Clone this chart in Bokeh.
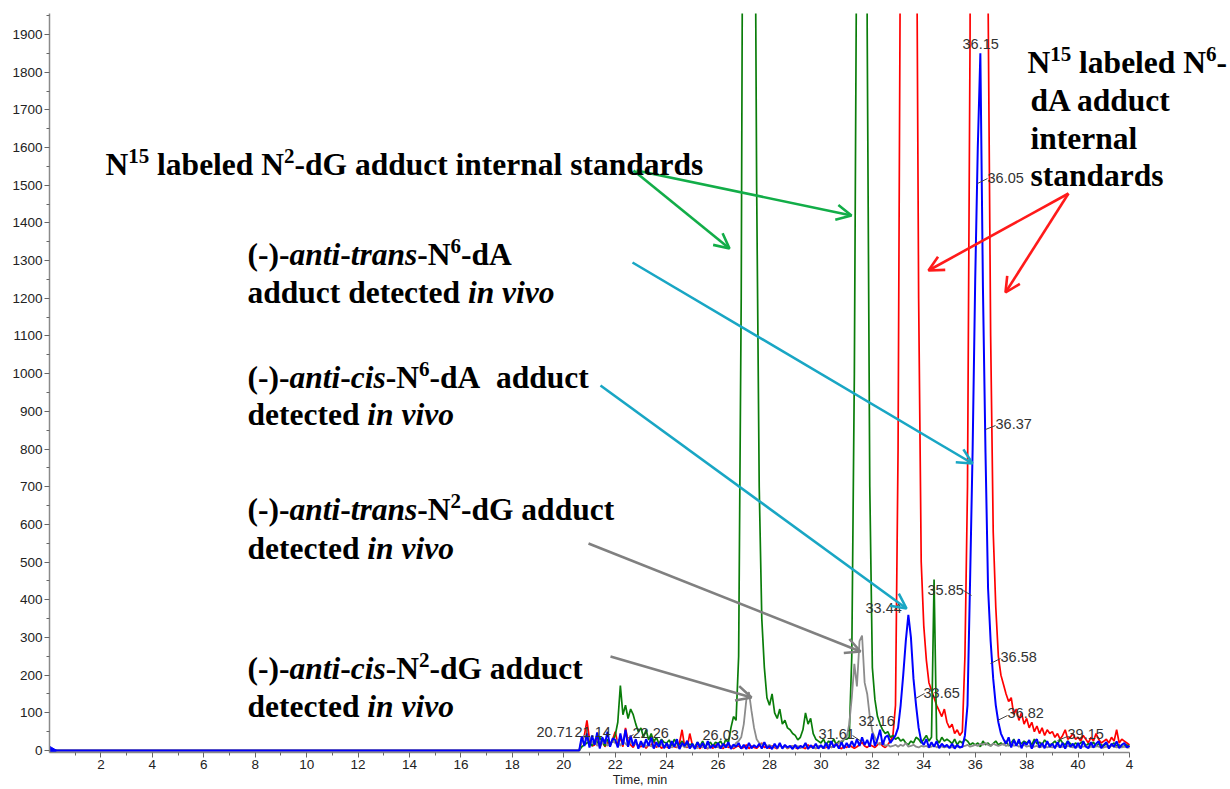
import numpy as np
from bokeh.plotting import figure
from bokeh.models import Range1d, FixedTicker, Label, Arrow, OpenHead
from bokeh.embed import file_html
from bokeh.resources import INLINE

# ---------------- data ----------------
# sampling grid: 20.0 .. 42.0 min, 0.1 min step (plus a flat baseline from 0 min)
grid_start, grid_step, grid_n = 20.0, 0.1, 221

blue_vals = [
    0, 0, 0, 0, 0, 0, 0, 38, 12, 45,
    8, 40, 15, 48, 5, 35, 18, 50, 10, 32,
    28, 8, 45, 15, 55, 10, 40, 12, 30, 5,
    25, 8, 30, 12, 35, 5, 22, 10, 28, 6,
    20, 5, 25, 10, 30, 4, 20, 12, 26, 5,
    18, 4, 22, 8, 20, 5, 25, 6, 15, 8,
    20, 5, 18, 8, 22, 4, 16, 10, 20, 5,
    15, 4, 20, 6, 14, 8, 18, 5, 22, 6,
    12, 4, 18, 6, 20, 5, 15, 8, 12, 4,
    15, 5, 12, 8, 20, 4, 14, 6, 18, 5,
    14, 6, 20, 4, 25, 8, 18, 5, 22, 6,
    20, 8, 25, 10, 30, 12, 35, 15, 28, 10,
    45, 12, 30, 55, 15, 35, 40, 20, 30, 40,
    60, 120, 200, 290, 360, 300, 190, 120, 60, 25,
    15, 30, 8, 22, 10, 25, 6, 18, 10, 15,
    6, 18, 5, 15, 8, 10, 40, 120, 450, 800,
    1250, 1600, 1850, 1230, 790, 430, 290, 190, 120, 75,
    45, 30, 18, 35, 8, 28, 12, 30, 6, 22,
    15, 28, 5, 22, 30, 8, 20, 6, 25, 10,
    18, 6, 22, 8, 20, 5, 25, 10, 18, 6,
    20, 5, 24, 10, 6, 22, 8, 18, 25, 6,
    15, 22, 5, 18, 10, 24, 6, 15, 20, 8,
    12]

red_vals = [
    0, 0, 0, 0, 0, 0, 0, 25, 40, 80,
    30, 12, 15, 40, 8, 25, 10, 22, 12, 30,
    50, 18, 35, 10, 60, 25, 15, 8, 22, 12,
    10, 18, 6, 15, 12, 30, 8, 15, 6, 12,
    10, 6, 15, 10, 8, 20, 55, 10, 8, 45,
    15, 6, 12, 5, 15, 8, 5, 12, 6, 15,
    8, 12, 5, 15, 8, 12, 5, 10, 12, 6,
    8, 15, 5, 12, 8, 6, 12, 20, 8, 10,
    6, 12, 8, 5, 15, 8, 12, 5, 10, 12,
    8, 5, 12, 8, 5, 15, 8, 12, 5, 10,
    12, 6, 8, 15, 8, 12, 20, 8, 5, 12,
    8, 15, 10, 6, 10, 15, 22, 12, 8, 15,
    12, 8, 15, 20, 12, 8, 15, 25, 40, 120,
    800, 2300, 6000, 9000, 9500, 8000, 5000, 2500, 1200, 500,
    330, 240, 180, 160, 140, 120, 105, 90, 110, 75,
    60, 70, 45, 55, 40, 50, 250, 700, 1900, 5000,
    9000, 11000, 10000, 8000, 5000, 2000, 1100, 580, 380, 250,
    200, 175, 150, 130, 140, 95, 110, 80, 100, 70,
    85, 60, 75, 50, 65, 45, 60, 40, 55, 45,
    50, 35, 45, 30, 40, 55, 30, 35, 45, 30,
    35, 25, 40, 30, 20, 35, 25, 45, 30, 20,
    25, 30, 20, 35, 25, 55, 20, 30, 25, 20,
    15]

green_vals = [
    0, 0, 0, 0, 0, 0, 0, 10, 15, 20,
    25, 12, 30, 18, 35, 22, 12, 30, 15, 25,
    40, 75, 172, 95, 120, 85, 110, 95, 70, 50,
    60, 35, 55, 28, 45, 22, 35, 18, 30, 22,
    20, 28, 12, 30, 18, 15, 25, 12, 20, 15,
    18, 10, 22, 12, 25, 10, 18, 22, 12, 22,
    18, 25, 12, 30, 20, 60, 90, 80, 250, 1200,
    3100, 7000, 8000, 6000, 2800, 1500, 700, 350, 220, 140,
    120, 150, 100, 85, 110, 70, 80, 60, 55, 45,
    40, 28, 35, 55, 100, 70, 85, 45, 30, 25,
    20, 30, 15, 25, 18, 30, 15, 25, 20, 30,
    30, 35, 250, 1000, 2300, 6000, 7500, 4000, 1900, 700,
    220, 135, 90, 70, 55, 45, 50, 35, 40, 30,
    35, 25, 30, 20, 15, 25, 20, 35, 30, 20,
    30, 40, 25, 35, 454, 30, 20, 35, 25, 30,
    25, 18, 30, 15, 25, 20, 30, 25, 15, 20,
    15, 20, 10, 25, 15, 20, 12, 18, 25, 15,
    20, 15, 25, 12, 20, 30, 15, 22, 18, 25,
    20, 25, 15, 30, 18, 22, 15, 28, 20, 15,
    18, 25, 15, 30, 20, 15, 25, 18, 12, 20,
    15, 20, 25, 12, 18, 15, 22, 10, 18, 15,
    12, 18, 10, 15, 20, 12, 15, 10, 12, 15,
    10]

gray_vals = [
    0, 0, 0, 0, 0, 0, 0, 30, 40, 25,
    35, 18, 30, 12, 25, 18, 30, 12, 20, 25,
    20, 30, 12, 25, 18, 12, 25, 15, 20, 12,
    15, 20, 10, 18, 12, 8, 15, 10, 18, 8,
    12, 15, 8, 14, 10, 6, 15, 8, 12, 8,
    10, 12, 6, 14, 8, 12, 6, 10, 12, 8,
    10, 6, 12, 8, 15, 10, 8, 20, 25, 35,
    70, 135, 155, 105, 60, 30, 20, 15, 20, 12,
    15, 8, 12, 6, 15, 8, 12, 6, 10, 12,
    8, 12, 6, 10, 15, 6, 12, 8, 6, 12,
    10, 6, 12, 15, 8, 12, 15, 20, 25, 30,
    35, 70, 140, 230, 170, 290, 305, 180, 150, 90,
    50, 35, 20, 15, 25, 12, 15, 10, 12, 15,
    10, 15, 12, 20, 10, 12, 15, 10, 8, 12,
    10, 12, 8, 10, 15, 8, 12, 10, 8, 10,
    10, 8, 12, 10, 8, 10, 12, 15, 10, 12,
    15, 12, 18, 15, 20, 15, 12, 18, 15, 12,
    15, 18, 12, 15, 20, 12, 15, 10, 12, 15,
    10, 12, 8, 10, 12, 8, 10, 12, 8, 10,
    8, 10, 12, 8, 10, 8, 12, 10, 8, 10,
    10, 8, 10, 12, 8, 10, 8, 12, 10, 8,
    8, 10, 8, 12, 10, 8, 10, 8, 10, 8,
    8]

peak_labels = ["20.71", "21.14", "22.26", "26.03", "31.61", "32.16", "33.44", "33.65",
               "35.85", "36.15", "36.05", "36.37", "36.58", "36.82", "39.15"]

x_ticks = list(range(2, 43, 2))
y_ticks = list(range(0, 2000, 100))

# ---------------- layout constants ----------------
W, H = 1230, 789
L, T, B = 49, 13, 752
PX_PER_MIN = (1129 - 49) / 42.0
PXU = 0.37684                      # px per intensity unit
ZERO_PX = 750.0
XMIN = 0.0
XMAX = (W - L) / PX_PER_MIN        # frame reaches the right canvas edge
YMAX = (ZERO_PX - T) / PXU
YMIN = -(B - ZERO_PX) / PXU


def px2x(px):
    return XMIN + (px - L) / PX_PER_MIN


def py2y(py):
    return (ZERO_PX - py) / PXU


time = [0.0] + [round(grid_start + grid_step * i, 2) for i in range(grid_n)]

p = figure(width=W, height=H, x_range=Range1d(XMIN, XMAX), y_range=Range1d(YMIN, YMAX),
           output_backend="svg", toolbar_location=None,
           min_border_left=L, min_border_right=0, min_border_top=T, min_border_bottom=H - B)
p.outline_line_color = None
p.xgrid.visible = False
p.ygrid.visible = False
p.background_fill_color = "white"

for ax in (p.xaxis, p.yaxis):
    ax.axis_line_color = "#8a8a8a"
    ax.axis_line_width = 1.5
    ax.major_tick_line_color = "#666666"
    ax.minor_tick_line_color = "#666666"
    ax.major_tick_out = 5
    ax.major_tick_in = 0
    ax.minor_tick_out = 3
    ax.minor_tick_in = 0
    ax.major_label_text_font = "Liberation Sans"
    ax.major_label_text_font_size = "13.5px"
    ax.major_label_text_color = "#222222"
    ax.major_label_standoff = 2

p.xaxis.bounds = (0, 42)
p.xaxis.ticker = FixedTicker(ticks=x_ticks, minor_ticks=list(range(1, 42, 2)))
p.xaxis.major_label_overrides = {42: "4"}
p.xaxis.axis_label = "Time, min"
p.xaxis.axis_label_text_font = "Liberation Sans"
p.xaxis.axis_label_text_font_size = "12.5px"
p.xaxis.axis_label_text_font_style = "normal"
p.xaxis.axis_label_text_color = "#222222"
p.xaxis.axis_label_standoff = 1
p.yaxis.ticker = FixedTicker(ticks=y_ticks, minor_ticks=list(range(50, 1951, 100)))

# traces
p.line(time, [0] + red_vals, line_color="#ff0000", line_width=1.7)
p.line(time, [0] + green_vals, line_color="#0a7d0a", line_width=1.7)
p.line(time, [0] + gray_vals, line_color="#8c8c8c", line_width=1.8)
p.line(time, [0] + blue_vals, line_color="#0000ff", line_width=2.0)

# blue start marker at the origin (pointing right)
p.scatter([0.0], [0.0], marker="triangle", angle=-np.pi / 2, size=13,
          fill_color="#0000ff", line_color="#0000ff")

# ---------------- peak labels ----------------
peak_pos = [(536, 731), (574, 731), (632, 732), (702, 734), (818, 733), (858, 720),
            (865, 607), (923, 692), (927, 589), (962, 43), (987, 177), (995, 423),
            (1000, 656), (1007, 712), (1067, 733)]
for txt, (px, py) in zip(peak_labels, peak_pos):
    p.add_layout(Label(x=px2x(px), y=py2y(py), text=txt, text_font="Liberation Sans",
                       text_font_size="14.5px", text_color="#333333",
                       text_baseline="middle", text_align="left"))

leaders = [(627, 738, 633, 734), (852, 735, 861, 741), (915, 698, 924, 693),
           (963, 590, 971, 595), (977, 183, 987, 178), (985, 429, 995, 425),
           (990, 663, 1000, 658), (997, 720, 1007, 715), (1057, 740, 1067, 736)]
for x0, y0, x1, y1 in leaders:
    p.add_layout(Arrow(end=None, x_start=px2x(x0), y_start=py2y(y0), x_end=px2x(x1),
                       y_end=py2y(y1), line_color="#444444", line_width=1))

# ---------------- annotation arrows ----------------
def arrow(x0, y0, x1, y1, color):
    p.add_layout(Arrow(end=OpenHead(size=15, line_color=color, line_width=2.6),
                       x_start=px2x(x0), y_start=py2y(y0), x_end=px2x(x1), y_end=py2y(y1),
                       line_color=color, line_width=2.6))


GREEN_A, RED_A, CYAN_A, GRAY_A = "#12ad48", "#ff1a1a", "#19a6c4", "#808080"
arrow(633, 170, 729, 248, GREEN_A)
arrow(636, 170, 851, 215, GREEN_A)
arrow(1068, 193, 928, 270, RED_A)
arrow(1068, 193, 1005, 292, RED_A)
arrow(632, 262, 972, 463, CYAN_A)
arrow(600, 385, 906, 608, CYAN_A)
arrow(588, 543, 860, 651, GRAY_A)
arrow(610, 656, 751, 697, GRAY_A)

# ---------------- rich annotation text ----------------
BOLD = {' ': 250, '(': 333, ')': 333, '-': 333, '.': 250, 'A': 722, 'D': 722, 'G': 778, 'N': 722,
        'a': 500, 'b': 556, 'c': 444, 'd': 556, 'e': 444, 'f': 333, 'g': 500, 'h': 556, 'i': 278,
        'l': 278, 'n': 556, 'o': 500, 'r': 444, 's': 389, 't': 333, 'u': 556, 'v': 500}
BOLDIT = {' ': 250, 'a': 500, 'c': 444, 'i': 278, 'n': 556, 'o': 500, 'r': 389, 's': 389,
          't': 278, 'v': 444}
FS, SUP_FS, SUP_RAISE = 31.5, 21.0, 8.5
SERIF = "Liberation Serif"


def seg_width(text, style):
    if style == "s":
        return len(text) * 500 * SUP_FS / 1000.0
    table = BOLDIT if style == "bi" else BOLD
    return sum(table.get(c, 500) for c in text) * FS / 1000.0


def rich(x_px, base_px, segments):
    x = x_px
    for text, style in segments:
        lead = text[:len(text) - len(text.lstrip())]
        x += seg_width(lead, style)
        body = text.lstrip()
        if body.strip():
            if style == "s":
                size, raise_px, fstyle = SUP_FS, SUP_RAISE, "bold"
            else:
                size, raise_px, fstyle = FS, 0.0, ("bold italic" if style == "bi" else "bold")
            p.add_layout(Label(x=px2x(x), y=py2y(base_px - raise_px), text=body.rstrip(),
                               text_font=SERIF, text_font_size=f"{size}px",
                               text_font_style=fstyle, text_color="black",
                               text_baseline="alphabetic", text_align="left"))
        x += seg_width(body, style)


rich(105, 164, [("N", "b"), ("15", "s"), (" labeled N", "b"), ("2", "s"),
                ("-dG adduct internal standards", "b")])

rich(1027, 62, [("N", "b"), ("15", "s"), (" labeled N", "b"), ("6", "s"), ("-", "b")])
rich(1030, 100, [("dA adduct", "b")])
rich(1030, 138, [("internal", "b")])
rich(1030, 175, [("standards", "b")])

rich(247, 254, [("(-)-", "b"), ("anti", "bi"), ("-", "b"), ("trans", "bi"), ("-N", "b"),
                ("6", "s"), ("-dA", "b")])
rich(247, 292, [("adduct detected ", "b"), ("in vivo", "bi")])

rich(247, 377, [("(-)-", "b"), ("anti", "bi"), ("-", "b"), ("cis", "bi"), ("-N", "b"),
                ("6", "s"), ("-dA", "b"), ("  adduct", "b")])
rich(247, 414, [("detected ", "b"), ("in vivo", "bi")])

rich(247, 509, [("(-)-", "b"), ("anti", "bi"), ("-", "b"), ("trans", "bi"), ("-N", "b"),
                ("2", "s"), ("-dG adduct", "b")])
rich(247, 548, [("detected ", "b"), ("in vivo", "bi")])

rich(247, 668, [("(-)-", "b"), ("anti", "bi"), ("-", "b"), ("cis", "bi"), ("-N", "b"),
                ("2", "s"), ("-dG adduct", "b")])
rich(247, 706, [("detected ", "b"), ("in vivo", "bi")])

open("out.html", "w").write(file_html(p, INLINE))
